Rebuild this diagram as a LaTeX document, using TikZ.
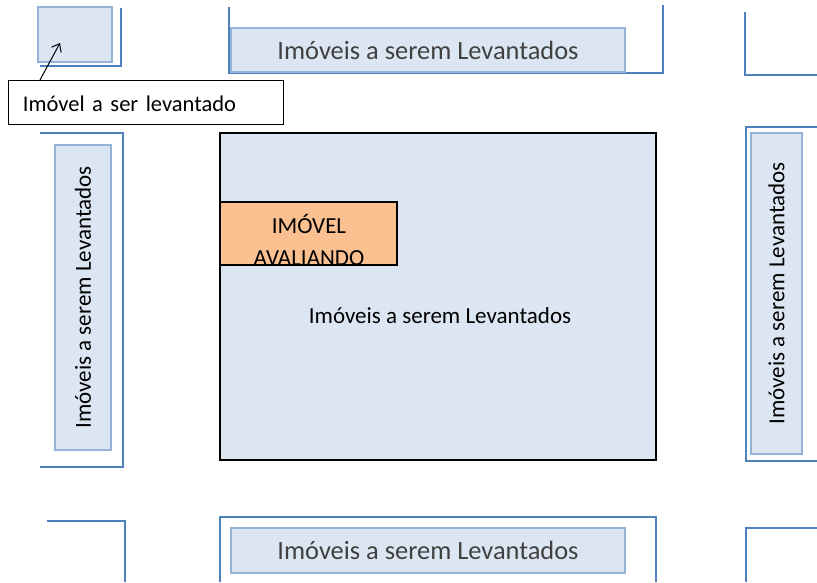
\documentclass[tikz,border=0pt]{standalone}
\usepackage{fontspec}
\setmainfont{Carlito}
\usepackage{xcolor}
\usetikzlibrary{arrows.meta}
\definecolor{linhaazul}{HTML}{4F81BD}
\definecolor{bordaazul}{HTML}{95B3D7}
\definecolor{azulclaro}{HTML}{DCE6F2}
\definecolor{laranja}{HTML}{FAC090}
\definecolor{cinzatexto}{HTML}{404040}
\tikzset{
	quadra/.style={draw=linhaazul,line width=1.6pt},
	lote/.style={draw=bordaazul,fill=azulclaro,line width=1.6pt,inner sep=0pt},
	letra/.style={font=\fontsize{23}{32}\selectfont},
	letrarua/.style={font=\fontsize{26.4}{30}\selectfont,text=cinzatexto}
}
\begin{document}
\begin{tikzpicture}[x=1pt,y=-1pt]
		\useasboundingbox (0,0) rectangle (817,582);
		% linhas das quadras
		\draw[quadra] (40,66) -- (121,66) -- (121,8);
		\draw[quadra] (229,7) -- (229,73) -- (663,73) -- (663,5);
		\draw[quadra] (745,12) -- (745,75) -- (817,75);
		\draw[quadra] (40,133) -- (123,133) -- (123,467) -- (40,467);
		\draw[quadra] (817,127) -- (746,127) -- (746,461) -- (817,461);
		\draw[quadra] (47,521) -- (125,521) -- (125,582);
		\draw[quadra] (220,582) -- (220,517) -- (656,517) -- (656,582);
		\draw[quadra] (817,528) -- (746,528) -- (746,582);
		% lotes
		\node[lote,line width=2.6pt,minimum width=74pt,minimum height=55pt] (lote) at (75,34.5) {};
		\node[lote,letrarua,minimum width=394pt,minimum height=44pt] (rua1) at (428,50) {Imóveis a serem Levantados};
		\node[lote,letrarua,minimum width=394pt,minimum height=45pt] (rua2) at (428,550.5) {Imóveis a serem Levantados};
		\node[lote,letra,rotate=90,minimum width=305pt,minimum height=56pt] (esq) at (83,297.5) {Imóveis a serem Levantados};
		\node[lote,letra,rotate=90,minimum width=321pt,minimum height=51pt] (dir) at (776.5,293.5) {Imóveis a serem Levantados};
		% quadra central
		\node[draw,fill=azulclaro,line width=1.2pt,minimum width=436pt,minimum height=327pt] (centro) at (438,296.5) {};
		\node[letra] (textocentro) at (440,316) {Imóveis a serem Levantados};
		\node[draw,fill=laranja,line width=1.2pt,minimum width=177pt,minimum height=63pt] (avaliando) at (308.5,233.5) {};
		\begin{scope}
			\clip (220,202) rectangle (397,264.5);
			\node[letra,align=center] (textoavaliando) at (309,239.5) {IMÓVEL\\AVALIANDO};
		\end{scope}
		\draw[line width=1.2pt] (avaliando.south west) -- (avaliando.south east);
		% rotulo
		\node[draw,line width=1pt,font=\fontsize{22.5}{27}\selectfont,text width=245pt,align=left,inner xsep=15pt,minimum height=44pt,text height=18pt,text depth=0pt] (rotulo) at (145.5,102) {Imóvel a ser levantado};
		\coordinate (seta) at (40,80);
		\coordinate (ponta) at (60,43);
		\draw[-{Straight Barb[length=7pt,width=11pt]},line width=1pt] (seta) -- (ponta);
	\end{tikzpicture}
\end{document}
